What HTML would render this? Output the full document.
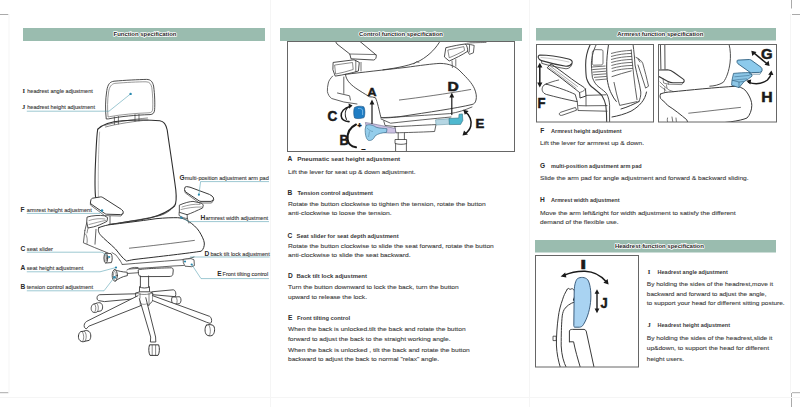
<!DOCTYPE html>
<html><head><meta charset="utf-8">
<style>
html,body{margin:0;padding:0;background:#fff;width:800px;height:407px;overflow:hidden}
svg{position:absolute;left:0;top:0;display:block}
text{font-family:"Liberation Sans",sans-serif}
.hd{font-weight:bold;font-size:5.8px;fill:#2a2a2a;stroke:#fff;stroke-width:1.5px;paint-order:stroke;stroke-linejoin:round}
.tt{font-weight:bold;font-size:4.9px;fill:#383838}
.ll{font-weight:bold;font-size:6.6px;fill:#2a2a2a}
.bd{font-size:6.0px;fill:#3e3e3e;stroke:#3e3e3e;stroke-width:0.1px}
.lls{font-family:"Liberation Serif",serif;font-weight:bold;font-size:6.6px;fill:#2a2a2a}
.lb{font-size:5.9px;fill:#3a3a3a;stroke:#3a3a3a;stroke-width:0.12px}
</style></head>
<body>
<svg width="800" height="407" viewBox="0 0 800 407">
<g stroke="#aaa" stroke-width="1" fill="none">
<path d="M0 14.5H8.5M0 392.7H8.5M791.5 0V8.5M792 14.5H800M792 392.7H800M791.5 393V407"/>
</g>
<g stroke="#f5f5f5" stroke-width="1" fill="none">
<path d="M270.5 0V407M529.5 0V407M790.5 14V393M9 14V393M0 397.5H800"/>
</g>
<g fill="#9abcaf">
<rect x="23" y="28" width="242" height="13"/>
<rect x="280" y="28" width="242" height="13"/>
<rect x="536" y="28" width="240" height="12.5"/>
<rect x="535" y="240" width="241" height="12.5"/>
</g>
<text class="hd" x="145" y="35.8" text-anchor="middle" textLength="63" lengthAdjust="spacingAndGlyphs">Function specification</text>
<text class="hd" x="401" y="35.8" text-anchor="middle" textLength="84" lengthAdjust="spacingAndGlyphs">Control function specification</text>
<text class="hd" x="660.3" y="35.8" text-anchor="middle" textLength="86" lengthAdjust="spacingAndGlyphs">Armrest function specification</text>
<text class="hd" x="659.4" y="248" text-anchor="middle" textLength="89" lengthAdjust="spacingAndGlyphs">Headrest function specification</text>
<g fill="none" stroke="#3a3a3a" stroke-width="0.9" stroke-linejoin="round" stroke-linecap="round">
<!-- headrest -->
<path d="M106.2 118.6 C105.2 110 105.3 100 106.8 90.6 C107.8 84 110 81.8 114 81.2 C125 80.2 138 79.6 146.5 79.4 C151 79.4 152.6 82 153.6 86 C154.8 95 155 104 154.6 109.8 C154.3 113 153 114.4 150 114.6 C136 115 120 116.5 108.8 118.8 Z"/>
<path d="M108 116.6 C107.3 109 107.4 100 108.6 92 C109.4 86.5 111.5 84 114.8 83.4 C126 82.4 138 81.8 146 81.8 C149.8 81.8 151 84 151.8 87.5 C152.8 95 153 103 152.7 109 C152.5 111.6 151.5 112.6 149 112.8 C136 113.2 121 114.6 110 116.6 Z" stroke-width="0.6" stroke="#555"/>
<path d="M114.4 117 V124.5 M118.4 116.5 V124 M135 114.6 V121.2 M139 114.4 V120.8" stroke-width="0.7"/>
<path d="M104.8 125.4 C115 122 135 119 147.5 118 M105.5 127 C116 124 136 121 148 120" stroke-width="0.6"/>
<!-- backrest -->
<path d="M97.8 129.2 C103 124 112 121.5 122 120.8 C135 119.8 150 119.8 159.8 120.8 C164 121.4 166 124 167.2 130 C170 150 173.5 172 175.8 190 C176.6 198 176.4 203 174.6 206 C168 212 158 216 150 218 C135 221 118 223 108.8 224.6" stroke-width="1.1" stroke="#2e2e2e"/>
<path d="M97.8 129.2 C96.6 134 96 150 95.2 170 C94.8 185 95 195 96 200" stroke-width="1.1" stroke="#2e2e2e"/>
<path d="M99.6 132 C98.4 150 98 175 98.4 198" stroke-width="0.5" stroke="#777"/>
<!-- left arm support -->
<path d="M87.4 217 C92 215.5 100 215 104.6 215.8 L107.6 217.6 L107 221.3 C102 224 97 226 93.5 226.9 L88 228 L86.8 222.6 Z" stroke-width="0.9" fill="#fff"/>
<path d="M89 220.5 C94 218.8 100 218.2 105 219 M89 224.5 C95 223 100 221.5 105.5 220.5" stroke-width="0.5"/>
<path d="M84.9 230.5 L83.4 242.8 L94.7 247.6 L108 253 M96 229.3 L95 244.2 M110 216.4 V224.4 M86.8 222.6 L84.9 230.5" stroke-width="0.8"/>
<path d="M85.6 234 C87.2 236 87.6 240 87 243.5 M88 228 L87 233" stroke-width="0.6"/>
<!-- left arm pad -->
<path d="M91.2 199.2 Q91.6 198.4 92.6 198.2 L100.6 196.9 Q101.8 196.8 102.8 197.5 L121.4 209.4 Q123.8 211 123.2 213 Q122.6 214.6 120.5 214.6 L106.6 214.2 Q105.6 214.1 104.8 213.5 L91 204 Q90.2 203.3 90.4 202.4 Z" stroke-width="1" fill="#fff"/>
<path d="M90.4 203 L90.4 205 L104.6 215.6 L121 216 L123 213.5" stroke-width="0.7"/>
<!-- seat -->
<path d="M98.9 227.6 C103 226 108 224.8 110.7 224.6 C120 223.5 140 221 156 218.7 C165 217.8 172 217.6 177.7 217.7 C182 218 185 219 187.5 220.7 C193 224 197 228 199.3 231.5 C202 236 204 240 204.3 243 C204.5 246 203.6 249 201.3 251.2 C190 253 160 256.5 134 259.5 C130 260.2 128 260.8 126.5 261 C122 258 119 253 115.5 249 C110 243.5 104 239 100.9 235.4 C98.6 233 97.6 230 98.9 227.6 Z" stroke-width="1" stroke="#2e2e2e" fill="#fff"/>
<path d="M129.4 248.2 C150 246 175 243 194.4 240.4" stroke-width="0.7"/>
<!-- backrest bottom over seat -->
<path d="M108.8 224.6 C125 222 145 219 160 215.5 C168 213 172 209 174.6 205" stroke-width="0.8"/>
<!-- right arm support -->
<path d="M179.7 205 C184 203 190 201.4 193 201.4 L200.4 202.9 C202.5 203.5 203.3 205 203.3 205 L202.6 208 C197 210.5 192 213 187.1 214.7 L179.7 212.4 Z" stroke-width="0.9" fill="#fff"/>
<path d="M182 207 C188 205 194 203.8 200 204.4 M181 209.5 C187 208 194 206.8 201.5 207" stroke-width="0.5"/>
<path d="M179.2 212.4 L179 215.4 C182 217.5 185 218.5 187.4 218.4 L187.1 214.7 M187.4 218.4 C188 221 188.6 222 188.8 223" stroke-width="0.8"/>
<!-- right arm pad -->
<path d="M184.6 188.6 Q184.6 186.4 186.6 186.6 L190 187.2 L209.4 194.4 Q212.6 195.8 213.6 198 Q214 200.8 211 201.4 L201 201.4 Q199.8 201.3 199 200.8 L186 192.2 Q184.8 191.4 184.6 190 Z" stroke-width="1" fill="#fff"/>
<path d="M184.8 190.4 L185.2 192.8 L199.4 203 L211.5 203 L213.8 200" stroke-width="0.7"/>
<!-- mechanism -->
<path d="M119.7 260 C121 262 122 263.5 122 264.5 C140 263 160 261.5 179 260 C185 259.6 190 258.5 194 257" stroke-width="0.8"/>
<path d="M129.5 269 C145 268 160 267 173 266 L183.5 265.5" stroke-width="0.8"/>
<path d="M138.5 269.7 C140 268.8 160 268 171.5 267.8 C173 268 173.4 269.5 173.2 271 L172.8 274.5 C172.4 276 171 276.5 169 276.5 L141 276.6 C139.4 276.4 138.6 275.4 138.5 274 Z" stroke-width="0.9" fill="#fff"/>
<path d="M127.2 273.5 L138.5 272.7 M127 270 C130 268 133 267 138 267.5" stroke-width="0.8"/>
<path d="M183.5 259.3 L191 258.6 L194 259.8 L194.4 265.6 L191.7 266.7 L185 266.2 L183.5 263 Z" stroke-width="0.8" fill="#fff"/>
<path d="M112 252.6 L116 255 L119.7 260" stroke-width="0.7"/>
<!-- slider knob -->
<path d="M105.6 253.2 L111 253.6 C112.4 255 112.6 260 111.4 262.6 L105.8 263 Z" stroke-width="0.9" fill="#fff"/>
<ellipse cx="105.8" cy="258.1" rx="1.9" ry="4.9" stroke-width="0.9" fill="#fff"/>
<ellipse cx="105.8" cy="258.1" rx="0.9" ry="3.3" stroke-width="0.5"/>
<!-- tension knob -->
<path d="M114.8 269.8 C118 271 122 272 127.2 272.2 L127.4 275.6 C122 276.6 118.6 278.6 115.4 281 Z" stroke-width="0.9" fill="#fff"/>
<ellipse cx="114.8" cy="275.4" rx="2.6" ry="5.7" stroke-width="0.9" fill="#fff"/>
<ellipse cx="114.8" cy="275.4" rx="1.4" ry="4" stroke-width="0.5"/>
<!-- gas lift -->
<path d="M140.4 276 V287 M148.6 276 V287 M139.6 287 C142 288.4 146.6 288.4 149.4 287 M139.6 287 L139.4 291.8 M149.4 287 L149.6 291.8" stroke-width="0.9"/>
<!-- back legs (behind) -->
<path d="M136 293.8 L99.6 294.7 C97.6 295 96.6 297 97.2 299.4 L98.6 300.6 L104.5 301.6 L136 298.7" stroke-width="0.9" fill="#fff"/>
<path d="M151.7 291.8 L173.3 289.8 C175 290 176 292 175.8 294.6 L175.3 296.7 L152.7 294.7" stroke-width="0.9" fill="#fff"/>
<!-- back casters -->
<path d="M92.6 304.6 C90.6 306.5 90.6 310.5 92.8 312 C94.6 313 96.4 312.6 97.4 311.6 L101.2 310.8 C103.2 309 103 304.6 101 303.2 C99.6 302.4 98 302.6 96.6 303.2 Z" stroke-width="0.9" fill="#fff"/>
<path d="M96.6 303.2 C98.6 304.6 99 309.6 97.4 311.6 M94.6 304 C96 305.6 96.4 309.6 95 311.6" stroke-width="0.6"/>
<path d="M172 297.4 C171 299.5 171.6 303 173.5 304.4 L179.6 303.6 C181.4 302 181.6 298.6 180 297 Z" stroke-width="0.9" fill="#fff"/>
<path d="M176 297.2 C177.6 299 177.6 302.6 176.2 304" stroke-width="0.6"/>
<!-- hub -->
<path d="M136 293 L140 291.8 L149.6 291.8 L152.7 293 L152.7 301 L148 305.6 L140 305.6 L136.2 302 Z" stroke-width="0.9" fill="#fff"/>
<path d="M140 293.6 V305.6 M149 293.6 V305.6 M136 293 C140 295 148 295 152.7 293" stroke-width="0.6"/>
<!-- front legs -->
<path d="M138 295.7 L86.8 321.3 C84.6 322.6 83.6 325 84.4 327.4 L86.2 329 L88.8 326.2 L140 306" stroke-width="0.9" fill="#fff"/>
<path d="M139.4 298.7 L150.7 337 L150.4 342 L155.8 342 L155.6 337 L145.8 297.7" stroke-width="0.9" fill="#fff"/>
<path d="M152.7 295.7 L209.7 316.4 C211.4 317.4 212 320 211.4 322.4 L210 323.4 L206.7 322.3 L152.7 300.6" stroke-width="0.9" fill="#fff"/>
<path d="M141 303.8 C143 304.6 145 304.6 147 303.8" stroke-width="0.5"/>
<!-- front casters -->
<path d="M80.4 331.8 C78 333.4 77.6 338.6 80 340.6 C81.6 342 83.6 342 85 341.2 L89.2 340.4 C91.2 338.6 91.4 333.6 89.2 331.6 C87.6 330.4 85.6 330.2 84.2 331 Z" stroke-width="1" fill="#fff"/>
<path d="M84.2 331 C86.6 332.6 87 338.6 85 341.2 M82 331.6 C84 333.4 84.4 339 82.6 341.4" stroke-width="0.6"/>
<path d="M149.4 345.2 C148.4 348 148.6 353 150 355.4 L158 355.4 C159.6 353 159.8 348 158.8 345.2 Z" stroke-width="1" fill="#fff"/>
<path d="M152.2 345.4 V355.4 M155.6 345.4 V355.4" stroke-width="0.6"/>
<path d="M206.4 325.2 C204.6 327 204.4 332.6 206.6 334.8 C208 336 210.6 336.2 212.2 335.4 C214.6 334 215.4 328.6 213.6 325.8 C212 324.4 208.4 324.2 206.4 325.2 Z" stroke-width="1" fill="#fff"/>
<path d="M208.6 324.8 C210.6 326.8 211 332.6 209.4 335.6" stroke-width="0.6"/>
</g>
<g fill="none" stroke="#5aa3b3" stroke-width="0.6">
<path d="M26.8 111.2 H109 L130.6 93.9"/>
<path d="M26.8 213.4 H100 L102 210.5"/>
<path d="M26.8 252.2 H102 L109.2 257"/>
<path d="M26.8 271.8 H100 L116 267.5"/>
<path d="M26.8 290.8 H104 L114.5 277.2"/>
<path d="M200.6 181.6 H269 M200.6 181.6 L198.9 194.7"/>
<path d="M181.2 217.6 L188.6 221.6 H269"/>
<path d="M190 257 H269.7"/>
<path d="M201 278.6 H269 M201 278.6 L191.7 264.5"/>
</g>
<g fill="#2a8ab0">
<circle cx="130.6" cy="93.9" r="1.2"/>
<circle cx="198.9" cy="194.7" r="1.1"/>
<circle cx="102" cy="210.5" r="1.3"/>
<circle cx="181.2" cy="217.6" r="1.2"/>
<circle cx="109.2" cy="257" r="1.1"/>
<circle cx="116" cy="267.5" r="1.1"/>
<circle cx="114.5" cy="277.2" r="1.3"/>
<circle cx="185" cy="261.5" r="1.1"/>
<circle cx="191.7" cy="264.5" r="1.1"/>
</g>

<defs><clipPath id="cbox"><rect x="288" y="42" width="226" height="109"/></clipPath></defs>
<g clip-path="url(#cbox)">
<g fill="none" stroke="#3a3a3a" stroke-width="0.9" stroke-linejoin="round" stroke-linecap="round">
<!-- left arm pad -->
<path d="M335.5 41.5 L337 44 L349.8 54 L351 58.8 L373.7 60 C375.6 59.6 376.6 57.6 376.2 55 L360 41.5" fill="#fff"/>
<path d="M349.8 54 L376 54.6" stroke-width="0.7"/>
<!-- left arm support -->
<path d="M333.5 62.4 L354 59.8 L359.3 62.4 L358.4 71 C352 73 343 75 335.2 76.1 L333 70 Z" fill="#fff"/>
<path d="M335 65 L352.5 62.5 L353.2 69.5 C347 71.5 341 73 336 74 Z" stroke-width="0.6"/>
<path d="M355.8 60.6 V71.8 M361 62.4 V71" stroke-width="0.7"/>
<path d="M332.6 76.1 C330.5 78.5 328.8 80.5 328.3 83 C327.6 86 327.2 89 327.4 91.6 C328 94.5 329.5 97 331.7 98.5 L343.8 102 L357 104 M343.8 77 V93.4 M337.5 93 L349.6 95.8 L350.4 100" stroke-width="0.8"/>
<!-- seat -->
<path d="M345.5 74.4 C360 72.5 385 69.8 405 67.5 C420 65.5 432 63.8 440 63.4 C450 63.6 456 66.5 461 72 C467 78 472 83 474.5 88.8 C476.3 93 476.8 97 476 100 C475.3 103 474 104 472 104.5 C455 108.5 430 112 400 116.6 C390 118 384 118 381 117.7 C379 110 377.5 102 375.5 97.8 C373.5 97 371.5 96.8 369.6 96.8 C364 93.5 360 91 355.8 88.2 C350 84 346 80 345.5 74.4 Z" fill="#fff"/>
<path d="M399.4 100 C420 97.5 445 94 470.7 89.5" stroke-width="0.7"/>
<!-- backrest bottom -->
<path d="M383 69.8 C398 68 412 65 420 60.6 C430 55 437 47 440.7 40" stroke-width="0.9"/>
<path d="M414 64 L416.5 61.5 L419 62.5" stroke-width="0.6"/>
<!-- right arm support -->
<path d="M446.2 47.6 C453 46 460 44.6 465.4 44 C467 45.5 467.8 48.5 467.6 51.3 C462 55 455 58.5 449.2 61 L444.7 57.2 Z" fill="#fff"/>
<path d="M448.2 50 L463.8 46.6 L464.6 50.4 C460 53 454.5 55.6 449.6 57.6 Z" stroke-width="0.6"/>
<path d="M465.4 44 L470.6 44.6 L474.2 45.4 L473.4 52.8 L469.4 54.4 L467.6 51.3 M469.6 45.2 L469.2 52" stroke-width="0.8"/>
<path d="M467 43.2 C475 42.6 482 42.6 486 42.4 M470 42 L486 41.8" stroke-width="0.6"/>
<path d="M452 61 L452.4 67.5 M455.8 59.6 L455.8 66.2" stroke-width="0.7"/>
<!-- tray -->
<path d="M381 117.7 C400 117 430 115 449.8 113.6 C458 112.5 465 110 472 107" stroke-width="0.8"/>
<path d="M381 119 L390.6 123.2 C410 121 435 118.5 451 117 M383.8 121 L385 125.5 L396 126.6 M394.8 126.6 C410 126 425 125 436 124.6 L434.6 131.5 C420 132.2 405 132.6 396 132.8 L394.8 126.6" stroke-width="0.8"/>
<!-- gas lift -->
<path d="M398.2 133 V139.5 M404.4 133 V139.5 M395.4 139.5 H406.6 L406.6 143.6 C403 144.6 399 144.6 395.4 143.6 Z M395.6 143.6 V151 M406.4 143.6 V151" stroke-width="0.8"/>
</g>
<!-- C knob -->
<path d="M354.5 107.5 C357 106 361 105.8 363.8 106.8 C365.2 109 365.2 115 364 117.6 C361 118.8 357 118.9 354.6 118 C353.4 115 353.4 110 354.5 107.5 Z" fill="#1f7dc4" stroke="#1a4f80" stroke-width="0.6"/>
<path d="M358 108.5 C360 108.2 362 108.8 362.6 110 L362.6 115" stroke="#8cc4ec" stroke-width="0.8" fill="none"/>
<!-- B lever purple shaft -->
<path d="M365.4 122.5 C375 124 388 127 395.5 128.5 L395.5 133 C388 133.5 378 132 367 130.5 Z" fill="#cdc2e3" stroke="#6a6a8a" stroke-width="0.6"/>
<!-- B lever light blue handle -->
<path d="M366 125.5 C369 124 373 125 376 127.2 C380 128.5 384 128.2 387 128.8 L386.5 132.4 C382 132.8 378 133.5 375 136 C373.5 139.5 371 141 368.5 140.4 C365.8 139.2 365 133 365.2 129 Z" fill="#94cdeb" stroke="#3d6f8c" stroke-width="0.7"/>
<path d="M367 128 C369 130 371 131.5 373 131.5 M369.5 131.5 L368.5 137" stroke="#3d6f8c" stroke-width="0.4" fill="none"/>
<!-- E lever -->
<path d="M435.5 119.8 L449.5 118.6 L449.6 124.2 L436 125 Z" fill="#b5d6e3" stroke="#5a8a9a" stroke-width="0.5"/>
<path d="M449 118.5 L458.8 118 L459 114.3 L462.4 113.9 L462.8 120.5 L460.6 124.4 L449.4 124.6 Z" fill="#4fb8cf" stroke="#2d6f80" stroke-width="0.6"/>
<!-- arrows -->
<g fill="none" stroke="#1a1a1a" stroke-linecap="round">
<path d="M372 123.5 V102" stroke-width="1.2"/>
<path d="M451.8 114.6 V95" stroke-width="1.2"/>
<path d="M350.5 106.3 C344 108 340.8 112 341.2 116 C341.6 119.5 344.6 121.4 349 121.6" stroke-width="1.6"/>
<path d="M347.6 107.5 C345 110 344.6 115 346.4 119.4" stroke-width="1.1"/>
<path d="M356 124.5 C350 127.5 347.2 133 347.6 139 C348 143.5 351 146.5 356 147.3" stroke-width="2"/>
<path d="M465 111.6 C470 115 472 121 470.8 126 C469.8 130 467 132.5 464.8 134" stroke-width="1.5"/>
</g>
<g fill="#1a1a1a">
<path d="M372 99.5 L369.6 104.5 L374.4 104.5 Z"/>
<path d="M451.8 92.5 L449.4 97.5 L454.2 97.5 Z"/>
<path d="M463.2 109.8 L468.6 111 L464.8 114.8 Z"/>
<path d="M462.5 135.4 L464 130.4 L468 134.4 Z"/>
<path d="M352.5 105.6 L348.6 103.4 L349 108.8 Z"/>
</g>
<g font-family="Liberation Sans" font-weight="bold" fill="#1a1a1a" stroke="#1a1a1a" stroke-width="0.5">
<text x="327.6" y="120.5" font-size="14.5" textLength="9.8" lengthAdjust="spacingAndGlyphs">C</text>
<text x="339.6" y="145.3" font-size="14.5" textLength="9.2" lengthAdjust="spacingAndGlyphs">B</text>
<text x="367.4" y="95.6" font-size="11.5" textLength="9" lengthAdjust="spacingAndGlyphs">A</text>
<text x="447.4" y="90.6" font-size="12.5" textLength="11.3" lengthAdjust="spacingAndGlyphs">D</text>
<text x="475.6" y="127.8" font-size="13" textLength="8.8" lengthAdjust="spacingAndGlyphs">E</text>
<text x="357.6" y="127.5" font-size="7">+</text>
<text x="361.6" y="150.5" font-size="7">–</text>
</g>
</g>

<defs><clipPath id="a1box"><rect x="537" y="45" width="116" height="77"/></clipPath></defs>
<g clip-path="url(#a1box)">
<g fill="none" stroke="#3a3a3a" stroke-width="0.9" stroke-linejoin="round" stroke-linecap="round">
<!-- seat cushion left -->
<path d="M546.3 84.1 C560 88 568 91 575.2 94.4 L577.3 101.7 C566 99.5 556 97 546.3 94.4 C542.6 93.2 541.6 90 542.4 87.6 C543 85.6 544.4 84.3 546.3 84.1 Z" fill="#fff"/>
<path d="M546 84 C550 82.4 554 81 558.7 80" stroke-width="0.8"/>
<!-- base / lever -->
<path d="M560.4 112.4 C559 113 558.8 114.6 560 115.2 C561 115.6 562 115.4 563 115 L576.6 110.2 L575.6 107.8 Z" stroke-width="0.8" fill="#fff"/>
<path d="M577.3 101.7 L578 110.5 L607 111.2 M578.6 105.6 L585.6 105.8 L607 105.6 M586 96 L586 105.8 M585.6 95.4 L606 94.8" stroke-width="0.8"/>
<!-- arm support diagonal -->
<path d="M551.3 64.1 C560 70 570 78 578 83.5 C582 86 584.5 87.5 585.5 89 L586 96 L580 98 L579.6 92.5 C577 90.5 574 88 568 83.5 C560 77 553 72 547.5 68 Z" fill="#fff" stroke-width="1"/>
<path d="M550.5 66.2 C558 72 568 79.5 577.5 86.5 M549 67.3 C557 73.5 567 81 576 88" stroke-width="0.5" stroke="#555"/>
<path d="M579.6 92.5 C581 92 584 91.5 585.5 89" stroke-width="0.7"/>
<!-- backrest frame -->
<path d="M590.5 44 C586.5 52 585.4 60 585.7 67 C585.8 72 586 76 586.6 78.5 C588 83 590 86 593.3 88 C597 91 600 93.5 602 95.7 C604 99 605.2 102 605.8 105.3 C606.4 110 606.7 116 606.7 122" stroke-width="1.1"/>
<path d="M596.5 44 C592.5 52 591.2 60 591.4 65 C591.6 70 592 74 592.4 77.5 C594 82 596 85 599 87.1 C602 89.5 605 91.5 606.7 93.8 C608.4 97 609.4 101 609.6 105.3 L609.6 122" stroke-width="0.9"/>
<path d="M608.6 44 C607.4 52 606.6 60 606.7 67 C606.8 74 607 79 607.7 82.3 C608.6 87 610 91 611.5 93.8 C612.8 96.5 614.5 99.5 616.3 101.5" stroke-width="1"/>
<path d="M592.4 52 C592.6 50.5 594 49.6 596 49.6 L602 49.8 C602.8 50 603 51 603 52 L603 63 C603 64.4 602 65 600.6 65 L593.5 65.2 C592.6 65 592.3 64 592.3 63 Z" stroke-width="0.7"/>
<!-- panel -->
<path d="M612 76.6 C618 74.5 625 72.5 631.2 70.9 M614 82.4 C615.5 90 617.5 98 619.7 105.4 L637 101.6 M631.2 49.8 C632.5 66 634.5 84 637 99.7" stroke-width="0.8"/>
<!-- right frame -->
<path d="M633 44 C634 52 634.6 58 635 65 C637 75 639.6 84 640.8 92 C641 96 640 99 638.9 101.6" stroke-width="0.9"/>
<path d="M646.5 92 C645 100 640 106 631 111.2 C625 114 618 116 612 117 M638.9 101.6 C634 104 628 107 621 109" stroke-width="1"/>
<!-- right side strap -->
<path d="M636 57.4 C639 58.6 641.4 60.6 642.7 63.2 C644.6 70 647 79 648.5 86.2 L645.6 88.1 C643 80 640.4 72 638 65 M640 62 L638 59" stroke-width="0.8"/>
<!-- arm pad -->
<path d="M539.8 55 C548 55 562 57.4 568.6 59 C571.8 59.8 573 61.8 571.8 63.6 C570.6 65.6 568 66.3 566 66.3 C558 65 548 62.5 541.5 60.6 C537.8 59.6 537.2 55.8 539.8 55 Z" fill="#fff" stroke-width="1.1"/>
<path d="M541.5 60.6 L541.8 63.4 C550 65.8 558 67.4 566 68.8 C569 68.6 571.4 67 572 64" stroke-width="0.8"/>
<path d="M541 57.5 C549 58 560 60 569 62" stroke-width="0.4" stroke="#777"/>
</g>
<!-- mesh hatching -->
<g stroke="#4a4a4a" stroke-width="0.8" fill="none">
<path d="M611 53.5 C618 51.5 625 50.6 631.5 50.4 M611 56.5 C618 54.5 625 53.6 631.8 53.4 M611 59.5 C618 57.5 625 56.6 632 56.4 M611.2 62.5 C618 60.5 625 59.6 632.2 59.4 M611.4 65.5 C618 63.5 625 62.6 632.5 62.4 M611.6 68.5 C618 66.5 625 65.6 632.8 65.4 M611.8 71.5 C618 69.5 625 68.6 633 68.4"/>
<path d="M592 67 L605.5 66 M592.2 69.6 L605.8 68.6 M592.6 72.2 L606 71.2 M593.2 74.8 L606.4 73.8 M594 77.4 L606.8 76.4 M595.2 80 L607.2 79"/>
</g>
<!-- F arrow -->
<g stroke="#1a1a1a" fill="#1a1a1a">
<path d="M539.8 65.5 V85" stroke-width="1.5" fill="none"/>
<path d="M539.8 62.8 L537.2 67.6 L542.4 67.6 Z M539.8 87.4 L537.2 82.6 L542.4 82.6 Z" stroke="none"/>
</g>
<text x="537.6" y="108.4" font-family="Liberation Sans" font-weight="bold" font-size="15.5" fill="#1a1a1a" stroke="#1a1a1a" stroke-width="0.5" textLength="8" lengthAdjust="spacingAndGlyphs">F</text>
</g>

<defs><clipPath id="a2box"><rect x="659" y="45" width="117" height="77"/></clipPath></defs>
<g clip-path="url(#a2box)">
<g fill="none" stroke="#3a3a3a" stroke-width="0.9" stroke-linejoin="round" stroke-linecap="round">
<!-- backrest -->
<path d="M660.4 44 L660.9 69 M664.8 44 L665 69" stroke-width="0.9"/>
<path d="M729 44 C730.6 50 730.8 57 730 63 C729 71 726.5 78 723.3 82.3 C719 85 714 86 709.8 86.2" stroke-width="0.9"/>
<!-- seat -->
<path d="M660.5 94 C664 92.4 668 92 671.3 91.9 C690 90 715 87.5 736.4 86.2 C742 87 746 90 748 94 C750.5 98 751.8 102 751.8 105.3 C751.8 110 750 115 747 118 C740 121 725 123 705 124" stroke-width="1"/>
<path d="M660.5 94 C659.5 96 660 98.5 661.7 99.6 C664 101.5 666 103 667.5 105.3 C675 110 681 115 686.7 119.7 L688 123" stroke-width="1"/>
<path d="M688.7 113.2 C705 111.5 725 109 740.5 107.4" stroke-width="0.7"/>
<!-- mechanism left -->
<path d="M660 82 L664 86 L669 90 L673 91.5 M660 86 L666 90.5 M664.6 88 V92" stroke-width="0.6"/>
<path d="M667.5 118 C667 120 667.4 122 668 123 M672 117 L673 123 M676 118 L676.5 123" stroke-width="0.7"/>
<!-- left arm pad -->
<path d="M659 70 L667.5 69.8 C670 70 672 71 674 72.5 C677.5 75 681 77.5 683.6 79.4 C684.6 80.4 684.2 82.3 682.8 82.6 L673 82.8 C671 82.8 669.5 82.4 668 81.6 L659 76.6" fill="#fff" stroke-width="1.1"/>
<path d="M668 81.6 L668.4 84.2 L681.8 84.6 L683.6 82" stroke-width="0.6"/>
<path d="M663 78.6 L663.6 83 L668.4 84.2 M666.4 84.8 L667 88" stroke-width="0.6"/>
</g>
<!-- blue arm support -->
<path d="M733.5 73.4 C738 73 744 72.6 750.6 72.6 L752.2 76 C750 77.8 747 80 744.2 81.5 L739 87.6 L731.6 85.2 L732 80.2 Z" fill="#8cc6e6" stroke="#2d5f80" stroke-width="0.8"/>
<path d="M734.4 76.8 L749.6 75.4 M732.4 80.4 C737 79.6 742 79.2 747 78.8" stroke="#2d5f80" stroke-width="0.5" fill="none"/>
<path d="M732 80.2 L739 82 L744.2 81.5 M739 82 L739 87.6" stroke="#2d5f80" stroke-width="0.6" fill="none"/>
<!-- blue arm pad -->
<path d="M737 60.8 Q737.2 60.2 738 60.1 L749.4 59.5 Q750.4 59.5 751.2 60.1 L761 67.2 Q762.6 68.6 762 70.6 Q761.4 72.4 759.6 72.4 L751.4 72.6 Q750.4 72.6 749.6 72 L738 63.8 Q736.8 62.8 737 60.8 Z" fill="#8ccaec" stroke="#2d5f80" stroke-width="0.9"/>
<path d="M749.6 72 L749.8 74.2 L760 74.2 L762 70.8" stroke="#2d5f80" stroke-width="0.6" fill="none"/>
<!-- G arrow -->
<g stroke="#1a1a1a" fill="none" stroke-linecap="round">
<path d="M753.5 52.6 L767.5 64.2" stroke-width="1.5"/>
<path d="M748.6 82.4 C755 84.5 762 84 767.4 80 C770 77.5 771 75 771.2 73" stroke-width="1.5"/>
</g>
<g fill="#1a1a1a">
<path d="M751.3 50.7 L752.3 56 L756.5 52 Z M769.6 66.1 L768.6 60.8 L764.5 64.8 Z"/>
<path d="M746.3 80.8 L751.2 79.4 L750.4 84.6 Z M771.4 70.4 L768.2 74.8 L773.4 75 Z"/>
</g>
<g font-family="Liberation Sans" font-weight="bold" fill="#1a1a1a" stroke="#1a1a1a" stroke-width="0.5">
<text x="761" y="58.8" font-size="14" textLength="11.6" lengthAdjust="spacingAndGlyphs">G</text>
<text x="761.2" y="101.8" font-size="14.2" textLength="11.4" lengthAdjust="spacingAndGlyphs">H</text>
</g>
</g>

<defs><clipPath id="hbox"><rect x="536" y="256" width="102" height="111"/></clipPath></defs>
<g clip-path="url(#hbox)">
<g fill="none" stroke="#3a3a3a" stroke-width="0.9" stroke-linejoin="round" stroke-linecap="round">
<!-- frame -->
<path d="M567.1 289.6 C565 293 563.6 296 562.7 299.2 C560.6 305 559 311 558.3 316.9 C557 326 556.4 336 556.4 345 C556.8 354 558.4 361 560.5 368" stroke-width="1"/>
<path d="M574.5 302 C570 303.5 566.5 306 564.2 309.5 C562.8 312 562.2 315 562 318.3 C561.4 326 561.2 334 561.2 345.9 C561.6 355 563.5 362 566.5 368" stroke-width="1"/>
<path d="M567.1 289.6 L568.2 288.2 L570 289.4 L572.2 288.6 C574.4 289.6 575.6 292 575.4 295 C575 298 574.6 300 574.5 302" stroke-width="0.9"/>
<path d="M574.8 297 L573.6 300" stroke-width="1.4" stroke="#222"/>
<path d="M553.4 336.2 H556.2 V340.6 H553.4 Z" stroke-width="0.8"/>
<!-- post -->
<path d="M569.4 341.8 L569.4 331 C569.6 329.8 571 329.4 572.5 329.4 L584 329.4 C585.4 329.6 586.2 330.6 586.4 332 C589 344 591.6 356 594.2 368" stroke-width="1"/>
<path d="M569.4 341.8 L573.6 341.8 C575.2 350 577.5 358 580.5 368" stroke-width="1"/>
</g>
<!-- blue pad -->
<path d="M577.5 278.6 C580.5 276.8 585 277 587.6 279.6 C590 283 591.2 291 590.8 299 C590.4 308 587.6 318 583.4 324.6 C582.4 326.4 581 327 579.6 327.2 L574.6 327.2 C574 327 573.8 326.4 573.8 325.6 L574.2 291 C574.4 285 575.6 280.4 577.5 278.6 Z" fill="#a9d3f2" stroke="#2d4f70" stroke-width="0.9"/>
<!-- arrows -->
<g stroke="#1a1a1a" fill="none" stroke-linecap="round">
<path d="M563.6 275.4 C570 272.6 578 271 585 271.2 C594 271.6 601 275.5 606 281.6" stroke-width="1.6"/>
<path d="M597 292 V310.5" stroke-width="1.4"/>
</g>
<g fill="#1a1a1a">
<path d="M560.6 276.4 L565.2 272.6 L566.4 277.6 Z M608.6 284.6 L603.4 282.8 L607.6 279 Z"/>
<path d="M597 289.2 L594.6 293.8 L599.4 293.8 Z M597 313.2 L594.6 308.6 L599.4 308.6 Z"/>
</g>
<g font-family="Liberation Serif" font-weight="bold" fill="#1a1a1a" stroke="#1a1a1a" stroke-width="0.5">
<text x="580.2" y="269" font-size="13.5" textLength="6" lengthAdjust="spacingAndGlyphs">I</text>
</g>
<g font-family="Liberation Sans" font-weight="bold" fill="#1a1a1a" stroke="#1a1a1a" stroke-width="0.5">
<text x="600.6" y="307.6" font-size="14" textLength="7.2" lengthAdjust="spacingAndGlyphs">J</text>
</g>
</g>


<g stroke="#666" stroke-width="1" fill="none">
<rect x="287.5" y="41.5" width="227" height="110"/>
<rect x="536.5" y="44.5" width="117" height="77.5"/>
<rect x="658.5" y="44.5" width="118" height="77.5"/>
<rect x="535.5" y="255.5" width="103" height="111.5"/>
</g>
<text class="ll" x="287.5" y="161.2">A</text>
<text class="tt" x="297.2" y="161.2" textLength="103.0" lengthAdjust="spacingAndGlyphs">Pneumatic seat height adjustment</text>
<text class="ll" x="287.5" y="194.5">B</text>
<text class="tt" x="297.4" y="194.5" textLength="75.6" lengthAdjust="spacingAndGlyphs">Tension control adjustment</text>
<text class="ll" x="287.5" y="237.5">C</text>
<text class="tt" x="296.5" y="237.5" textLength="102.1" lengthAdjust="spacingAndGlyphs">Seat slider for seat depth adjustment</text>
<text class="ll" x="288" y="277.6">D</text>
<text class="tt" x="296.5" y="277.6" textLength="70.5" lengthAdjust="spacingAndGlyphs">Back tilt lock adjustment</text>
<text class="ll" x="288" y="319.7">E</text>
<text class="tt" x="297" y="319.7" textLength="53" lengthAdjust="spacingAndGlyphs">Front tilting control</text>
<text class="bd" x="288" y="174.3" textLength="127.5" lengthAdjust="spacingAndGlyphs">Lift the lever for seat up &amp; down adjustment.</text>
<text class="bd" x="288" y="205.5" textLength="197.7" lengthAdjust="spacingAndGlyphs">Rotate the button clockwise to tighten the tension, rotate the button</text>
<text class="bd" x="288" y="214.5" textLength="103.7" lengthAdjust="spacingAndGlyphs">anti-clockwise to loose the tension.</text>
<text class="bd" x="288" y="247.6" textLength="205.8" lengthAdjust="spacingAndGlyphs">Rotate the button clockwise to slide the seat forward, rotate the button</text>
<text class="bd" x="288" y="256.6" textLength="122.6" lengthAdjust="spacingAndGlyphs">anti-clockwise to slide the seat backward.</text>
<text class="bd" x="288" y="289.1" textLength="170.7" lengthAdjust="spacingAndGlyphs">Turn the button downward to lock the back, turn the button</text>
<text class="bd" x="288" y="299.0" textLength="79" lengthAdjust="spacingAndGlyphs">upward to release the lock.</text>
<text class="bd" x="288" y="331.0" textLength="177.6" lengthAdjust="spacingAndGlyphs">When the back is unlocked.tilt the back and rotate the button</text>
<text class="bd" x="288" y="341.0" textLength="162.6" lengthAdjust="spacingAndGlyphs">forward to adjust the back to the straight working angle.</text>
<text class="bd" x="288" y="351.5" textLength="181.8" lengthAdjust="spacingAndGlyphs">When the back is unlocked ,  tilt the back and rotate the button</text>
<text class="bd" x="288" y="360.5" textLength="151" lengthAdjust="spacingAndGlyphs">backward to adjust the back to normal "relax" angle.</text>
<text class="bd" x="540" y="144.5" textLength="104" lengthAdjust="spacingAndGlyphs">Lift the lever for armrest up &amp; down.</text>
<text class="bd" x="540" y="179.7" textLength="208.6" lengthAdjust="spacingAndGlyphs">Slide the arm pad for angle adjustment and forward &amp; backward sliding.</text>
<text class="bd" x="540" y="214.5" textLength="195.7" lengthAdjust="spacingAndGlyphs">Move the arm left&amp;right for width adjustment to satisfy the different</text>
<text class="bd" x="540" y="224.1" textLength="78.6" lengthAdjust="spacingAndGlyphs">demand of the flexible use.</text>
<text class="bd" x="646.8" y="286.3" textLength="126.2" lengthAdjust="spacingAndGlyphs">By holding the sides of the headrest,move it</text>
<text class="bd" x="646.8" y="295.8" textLength="119.7" lengthAdjust="spacingAndGlyphs">backward and forward to adjust the angle,</text>
<text class="bd" x="646.8" y="305.2" textLength="137.8" lengthAdjust="spacingAndGlyphs">to support your head for different sitting posture.</text>
<text class="bd" x="646.8" y="339.8" textLength="125.6" lengthAdjust="spacingAndGlyphs">By holding the sides of the headrest,slide it</text>
<text class="bd" x="646.8" y="349.8" textLength="122.2" lengthAdjust="spacingAndGlyphs">up&amp;down, to support the head for different</text>
<text class="bd" x="646.8" y="360.6" textLength="37.2" lengthAdjust="spacingAndGlyphs">height users.</text>
<text class="ll" x="540.2" y="133.2">F</text>
<text class="tt" x="551" y="133.2" textLength="70.6" lengthAdjust="spacingAndGlyphs">Armrest height adjustment</text>
<text class="ll" x="540.1" y="167.8">G</text>
<text class="tt" x="551" y="167.8" textLength="90.7" lengthAdjust="spacingAndGlyphs">multi-position adjustment arm pad</text>
<text class="ll" x="540.1" y="202.2">H</text>
<text class="tt" x="551" y="202.2" textLength="68.5" lengthAdjust="spacingAndGlyphs">Armrest width adjustment</text>
<text class="lls" x="647.7" y="274.2">I</text>
<text class="tt" x="657.6" y="274.2" textLength="70.2" lengthAdjust="spacingAndGlyphs">Headrest angle adjustment</text>
<text class="lls" x="647.5" y="327.4">J</text>
<text class="tt" x="657.6" y="327.4" textLength="72.4" lengthAdjust="spacingAndGlyphs">Headrest height adjustment</text>
<text class="lls" x="22.6" y="93.2">I</text>
<text class="lb" x="27.2" y="93.2" textLength="65.6" lengthAdjust="spacingAndGlyphs">headrest angle adjustment</text>
<text class="lls" x="22" y="108.6">J</text>
<text class="lb" x="27.2" y="108.6" textLength="67.8" lengthAdjust="spacingAndGlyphs">headrest height adjustment</text>
<text class="ll" x="20.4" y="211.7">F</text>
<text class="lb" x="26.8" y="211.7" textLength="64.9" lengthAdjust="spacingAndGlyphs">armrest height adjustment</text>
<text class="ll" x="20.4" y="250.6">C</text>
<text class="lb" x="26.8" y="250.6" textLength="26.2" lengthAdjust="spacingAndGlyphs">seat slider</text>
<text class="ll" x="20.4" y="270.2">A</text>
<text class="lb" x="26.8" y="270.2" textLength="56.5" lengthAdjust="spacingAndGlyphs">seat height adjustment</text>
<text class="ll" x="20.4" y="289.1">B</text>
<text class="lb" x="26.8" y="289.1" textLength="66.3" lengthAdjust="spacingAndGlyphs">tension control adjustment</text>
<text class="ll" x="179.4" y="180.3">G</text>
<text class="lb" x="184.7" y="180.3" textLength="84.1" lengthAdjust="spacingAndGlyphs">multi-position adjustment arm pad</text>
<text class="ll" x="200.4" y="220.1">H</text>
<text class="lb" x="205.4" y="220.1" textLength="62.8" lengthAdjust="spacingAndGlyphs">armrest width adjustment</text>
<text class="ll" x="204.5" y="255.5">D</text>
<text class="lb" x="210.4" y="255.5" textLength="59.3" lengthAdjust="spacingAndGlyphs">back tilt lock adjustment</text>
<text class="ll" x="217.2" y="276.1">E</text>
<text class="lb" x="222.5" y="276.1" textLength="45.7" lengthAdjust="spacingAndGlyphs">Front tilting control</text>
</svg>
</body></html>
